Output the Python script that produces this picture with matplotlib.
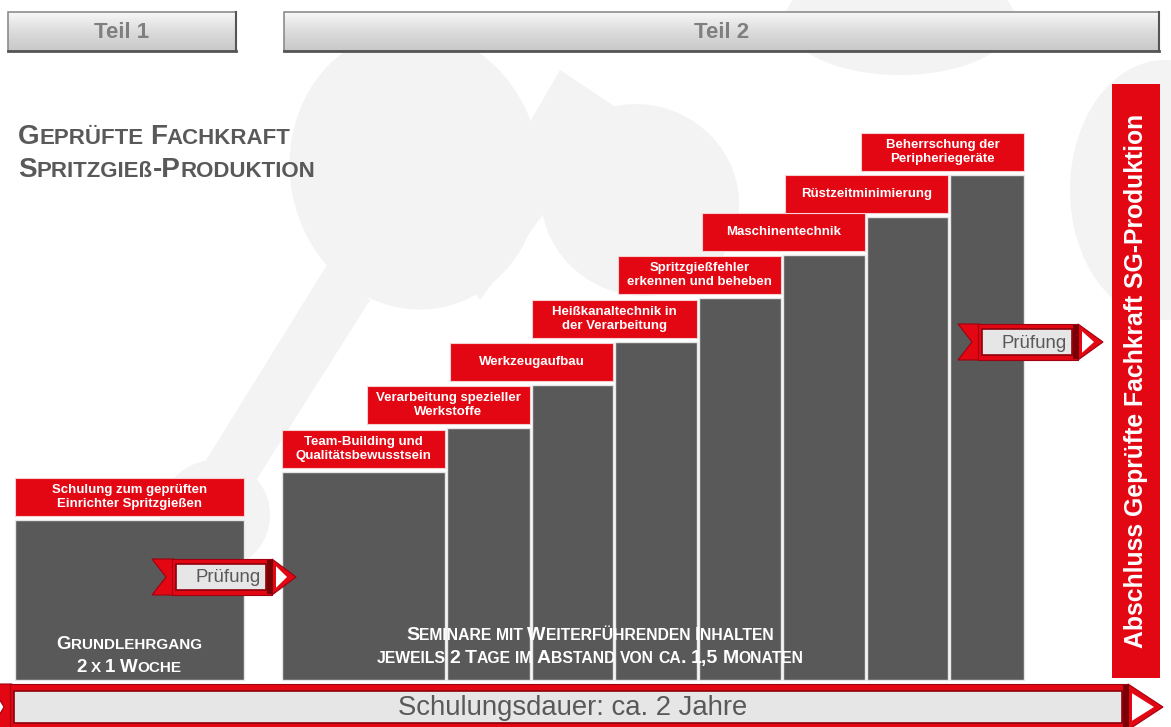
import numpy as np
import matplotlib.pyplot as plt
from matplotlib.patches import Rectangle, Polygon, Ellipse, Circle

plt.rcParams['font.family'] = ['Liberation Sans', 'DejaVu Sans']

# stages (left: Teil 1, then the seminar steps of Teil 2)
stage_labels = [
    'Schulung zum geprüften\nEinrichter Spritzgießen',
    'Team-Building und\nQualitätsbewusstsein',
    'Verarbeitung spezieller\nWerkstoffe',
    'Werkzeugaufbau',
    'Heißkanaltechnik in\nder Verarbeitung',
    'Spritzgießfehler\nerkennen und beheben',
    'Maschinentechnik',
    'Rüstzeitminimierung',
    'Beherrschung der\nPeripheriegeräte',
]
step_left = [15, 282, 447, 532, 615, 699, 783, 867, 950]
step_right = [244, 445, 530, 613, 697, 781, 865, 948, 1024]
step_top = [520, 472, 428, 385, 342, 298, 255, 217, 175]
label_left = [15, 282, 367, 450, 532, 618, 702, 785, 861]

part_names = ['Teil 1', 'Teil 2']
part_span = [(8, 236), (284, 1159)]

RED = '#e30613'
DARK = '#595959'
W, H = 1171, 727
BASE = 680

fig = plt.figure(figsize=(W / 100, H / 100), dpi=100)
ax = fig.add_axes([0, 0, 1, 1])
ax.set_xlim(0, W)
ax.set_ylim(H, 0)
ax.axis('off')
renderer = fig.canvas.get_renderer()

# faint molecule shapes in the background
bg = '#f3f3f3'
for p in [Ellipse((415, 170), 250, 280, angle=-10),
          Ellipse((640, 200), 200, 190, angle=25),
          Ellipse((900, 20), 230, 110),
          Ellipse((1165, 190), 190, 260),
          Circle((215, 515), 55),
          Polygon([(330, 260), (370, 300), (250, 490), (200, 470)]),
          Polygon([(560, 70), (620, 110), (480, 300), (450, 260)])]:
    p.set_facecolor(bg)
    p.set_edgecolor('none')
    p.set_zorder(0)
    ax.add_patch(p)

# Teil buttons
grad = np.linspace(0, 1, 50).reshape(-1, 1)
btn_cmap = plt.cm.colors.LinearSegmentedColormap.from_list('btn', ['#f7f7f7', '#dcdcdc', '#c8c8c8'])
for name, (x0, x1) in zip(part_names, part_span):
    ax.imshow(grad, extent=(x0, x1, 51, 12), cmap=btn_cmap, aspect='auto', zorder=2)
    ax.add_patch(Rectangle((x0, 12), x1 - x0, 39, fill=False, ec='#8c8c8c', lw=1.2, zorder=3))
    ax.plot([x0, x1], [51, 51], color='#555555', lw=2, zorder=3)
    ax.plot([x1, x1], [12, 51], color='#555555', lw=1.5, zorder=3)
    ax.text((x0 + x1) / 2, 32, name, ha='center', va='center', fontsize=16,
            fontweight='bold', color='#7f7f7f', zorder=4)


def measure(s, size, weight):
    t = ax.text(0, 0, s, fontsize=size, fontweight=weight)
    w = t.get_window_extent(renderer).width
    t.remove()
    return w


def small_caps(x, y, text, big, small, ha='left', color=DARK, weight='bold'):
    runs = []
    for ch in text:
        if ch == ' ':
            runs.append((None, small))
            continue
        size = small if ch.islower() else big
        c = ch if ch == 'ß' else ch.upper()
        if runs and runs[-1][0] is not None and runs[-1][1] == size:
            runs[-1] = (runs[-1][0] + c, size)
        else:
            runs.append((c, size))
    widths = [0.278 * sz * 100 / 72 if s is None else measure(s, sz, weight) for s, sz in runs]
    total = sum(widths)
    cx = x - total / 2 if ha == 'center' else x
    for (s, sz), w in zip(runs, widths):
        if s is not None:
            ax.text(cx, y, s, fontsize=sz, fontweight=weight, color=color,
                    ha='left', va='baseline', zorder=6)
        cx += w


# title
small_caps(18, 144, 'Geprüfte Fachkraft', 20, 16)
small_caps(18, 177, 'Spritzgieß-Produktion', 20, 16)

# steps and their red labels
for i, lab in enumerate(stage_labels):
    x0, x1, top = step_left[i], step_right[i], step_top[i]
    ax.add_patch(Rectangle((x0, top), x1 - x0, BASE - top, fc=DARK, ec='#e6e6e6', lw=1, zorder=3))
    lx0 = label_left[i]
    ax.add_patch(Rectangle((lx0, top - 42), x1 - lx0, 38, fc=RED, ec='#f6d0d0', lw=0.8, zorder=4))
    ax.text((lx0 + x1) / 2, top - 23, lab, ha='center', va='center', fontsize=9.5,
            fontweight='bold', color='white', linespacing=1.15, zorder=5)

small_caps(129, 649, 'Grundlehrgang', 13.5, 11, ha='center', color='white')
small_caps(129, 672, '2 x 1 Woche', 13.5, 11, ha='center', color='white')
small_caps(590, 640, 'Seminare mit Weiterführenden Inhalten', 14, 11.3, ha='center', color='white')
small_caps(590, 663, 'jeweils 2 Tage im Abstand von ca. 1,5 Monaten', 14, 11.3, ha='center', color='white')


def ribbon(x0, xb, tip, yc, h, pad, text, fs, tx):
    top, bot = yc - h / 2, yc + h / 2
    ax.add_patch(Polygon([(x0, top), (x0 + 22, top), (x0 + 22, bot), (x0, bot), (x0 + 14, yc)],
                         fc=RED, ec='#a0000f', lw=0.8, zorder=7))
    ax.add_patch(Rectangle((x0 + 20, top), xb - x0 - 20, h, fc=RED, ec='#a0000f', lw=0.8, zorder=7))
    ax.add_patch(Rectangle((x0 + 24, top + pad), xb - x0 - 30, h - 2 * pad,
                           fc='#e6e6e6', ec='#8c000c', lw=1.2, zorder=8))
    ax.add_patch(Rectangle((xb - 5, top + 1), 6, h - 2, fc='#7a0008', ec='none', zorder=8))
    ax.add_patch(Polygon([(xb, top), (tip, yc), (xb, bot)], fc=RED, ec='#a0000f', lw=0.8, zorder=7))
    ax.add_patch(Polygon([(xb + 4, yc - h * 0.3), (tip - 9, yc), (xb + 4, yc + h * 0.3)],
                         fc='white', ec='none', zorder=8))
    ax.text(tx, yc + 1, text, ha='center', va='center', fontsize=fs, color=DARK, zorder=9)


ribbon(152, 272, 296, 577, 36, 5, 'Prüfung', 13.4, 228)
ribbon(958, 1078, 1103, 342, 36, 5, 'Prüfung', 13.4, 1034)
ribbon(-10, 1128, 1163, 707, 46, 7, 'Schulungsdauer: ca. 2 Jahre', 19.8, 573)

# final exam bar
ax.add_patch(Rectangle((1112, 84), 48, 594, fc=RED, ec='none', zorder=3))
ax.text(1136, 381, 'Abschluss Geprüfte Fachkraft SG-Produktion', rotation=90,
        ha='center', va='center', fontsize=17.8, fontweight='bold', color='white', zorder=5)

fig.savefig('out.png', dpi=100)
